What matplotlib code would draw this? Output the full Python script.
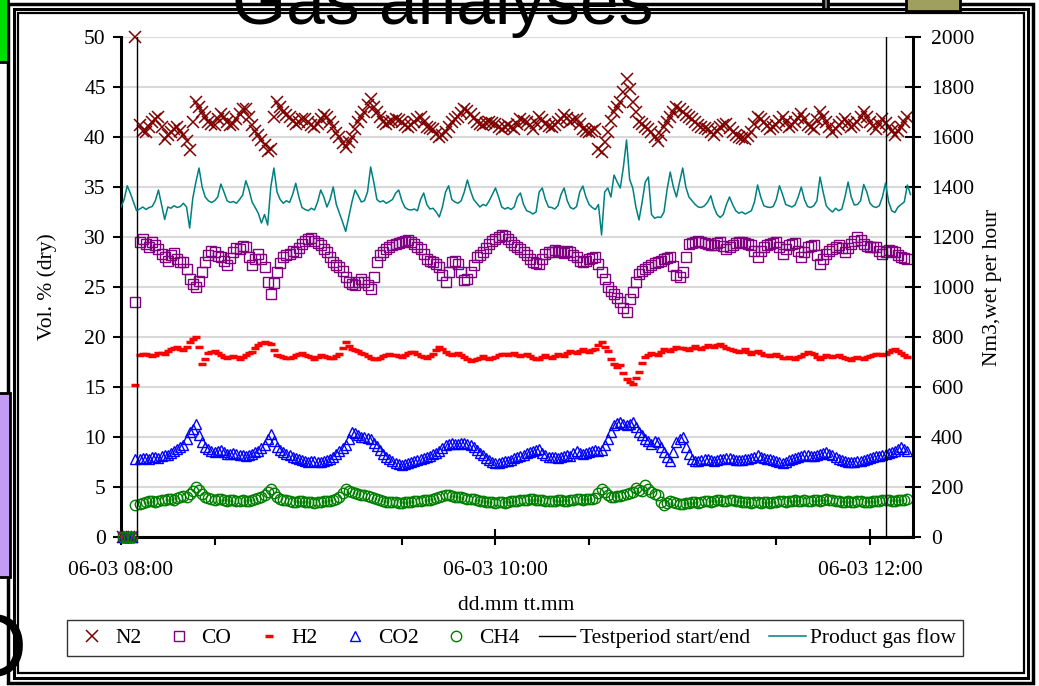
import matplotlib
matplotlib.use("Agg")
import matplotlib.pyplot as plt
from matplotlib.patches import Rectangle
from matplotlib.lines import Line2D

plt.rcParams['font.family'] = ['Liberation Serif', 'DejaVu Serif']

# minutes after 06-03 08:00
start_minutes = [0.5, 1.5, 2.5, 3.5, 4.5]
start_n2 = [0, 0, 0, 0, 50.0]
start_co = [0, 0, 0, 0, 23.5]
start_h2 = [0, 0, 0, 0, 15.2]
start_co2 = [0, 0, 0, 0, 7.8]
start_ch4 = [0, 0, 0, 0, 3.2]

even_minutes = list(range(6, 253, 2))
odd_minutes = list(range(7, 252, 2))

n2_even = [41.2, 40.5, 41.5, 42, 39.8, 40.5, 41, 40.2, 38.7, 43.5,
           42.5, 41.5, 41.2, 42.3, 41.5, 41.3, 42.3, 42.8, 41.2, 40.2,
           39.2, 38.8, 43.5, 42.5, 42, 41.3, 41.8, 41.5, 41, 41.8,
           42, 41, 40, 39, 40, 41.5, 42.5, 43.8, 42.5, 41.5,
           41.5, 41.8, 41.5, 41, 41.5, 42, 41, 40.8, 40, 40.5,
           41.5, 42, 42.8, 42.3, 41.5, 41.2, 41.5, 41.3, 40.8, 41.2,
           40.8, 41.8, 41.5, 40.8, 42, 41.3, 41, 41.5, 42.2, 41.5,
           41.8, 40.8, 40.5, 40.8, 38.5, 40.5, 42.5, 43.5, 45.8, 43.5,
           41.5, 41, 40.5, 39.6, 41, 42, 43, 42.5, 42, 41.5,
           41, 40.8, 40.2, 41, 41.3, 40.5, 40, 39.8, 40.5, 42,
           41.5, 40.8, 41.2, 42, 41, 41.5, 42.3, 41.2, 40.8, 42.5,
           41.5, 40.5, 41.2, 41.8, 41, 41.5, 42.5, 41.5, 40.8, 41.8,
           41, 40.2, 41, 42]
n2_odd = [40.6, 41.0, 41.8, 41.0, 40.2, 40.8, 40.6, 39.6, 41.5, 43.0,
          42.0, 41.3, 41.8, 42.0, 41.2, 41.8, 42.8, 42.0, 40.6, 39.7,
          38.6, 42.0, 43.0, 42.2, 41.6, 41.5, 41.8, 41.2, 41.3, 42.2,
          41.5, 40.4, 39.4, 39.5, 40.8, 42.0, 43.2, 43.0, 42.0, 41.3,
          41.6, 41.7, 41.2, 41.2, 41.8, 41.5, 40.9, 40.3, 40.2, 41.0,
          41.8, 42.4, 42.6, 41.9, 41.3, 41.4, 41.4, 41.0, 41.0, 41.0,
          41.3, 41.6, 41.2, 41.4, 41.7, 41.1, 41.2, 41.8, 41.9, 41.7,
          41.3, 40.6, 40.6, 38.8, 39.5, 41.6, 43.0, 44.5, 44.8, 42.5,
          41.3, 40.8, 40.0, 40.2, 41.5, 42.5, 42.8, 42.2, 41.8, 41.2,
          40.9, 40.5, 40.6, 41.2, 40.9, 40.2, 39.9, 40.1, 41.3, 41.8,
          41.1, 41.0, 41.6, 41.5, 41.2, 41.9, 41.8, 41.0, 41.7, 42.0,
          41.0, 40.8, 41.5, 41.4, 41.2, 42.0, 42.0, 41.1, 41.3, 41.4,
          40.6, 40.6, 41.5]

co_even = [29.5, 29.3, 29.5, 28.8, 28, 28.2, 27.8, 27.5, 25.8, 25,
           26.5, 28.2, 28.5, 28, 27.2, 28.5, 28.8, 29, 27.2, 28.3,
           27, 24.3, 26.5, 28, 28.3, 28.5, 29.3, 29.8, 29.6, 29.2,
           28.5, 27.5, 27, 26, 25.3, 25.5, 25.5, 24.8, 27.5, 28.5,
           29, 29.3, 29.5, 29.7, 29.3, 28.8, 27.8, 27.5, 27, 25.5,
           27.5, 27.3, 25.7, 26.5, 28, 28.5, 29.3, 29.8, 30.2, 29.8,
           29.2, 28.8, 28.2, 27.5, 27.3, 28.3, 28.5, 28.6, 28.4, 28.5,
           28, 27.5, 27.8, 28, 26.5, 25, 24.3, 23.5, 22.5, 24.5,
           26.3, 26.8, 27.2, 27.5, 27.8, 28, 26.2, 26.5, 29.3, 29.5,
           29.5, 29.3, 29.2, 29.5, 28.8, 29.2, 29.5, 29.4, 29.2, 28,
           29, 29.3, 29.5, 28.3, 29.2, 29.4, 28, 29, 29.2, 27.3,
           28.3, 28.8, 29.2, 28.5, 29.3, 30, 29.3, 29, 29, 28.3,
           28.7, 28.5, 28, 27.8]
co_odd = [29.8, 29.0, 29.2, 28.3, 27.6, 28.4, 27.5, 26.8, 25.3, 25.6,
          27.5, 28.6, 28.1, 27.6, 27.9, 28.9, 29.1, 28.0, 27.8, 27.8,
          25.5, 25.4, 27.4, 28.2, 28.6, 28.9, 29.6, 29.9, 29.4, 28.8,
          28.0, 27.2, 26.6, 25.5, 25.2, 25.8, 25.2, 26.0, 28.2, 28.8,
          29.2, 29.4, 29.6, 29.5, 29.0, 28.3, 27.6, 27.3, 26.2, 26.5,
          27.6, 26.5, 25.8, 27.2, 28.2, 28.9, 29.6, 30.0, 30.1, 29.5,
          29.0, 28.5, 27.8, 27.4, 27.8, 28.5, 28.7, 28.5, 28.6, 28.2,
          27.6, 27.6, 27.9, 27.3, 25.8, 24.6, 23.9, 22.9, 23.8, 25.5,
          26.6, 27.0, 27.4, 27.6, 27.9, 27.1, 26.0, 28.0, 29.4, 29.6,
          29.4, 29.2, 29.4, 29.1, 29.0, 29.4, 29.5, 29.3, 28.6, 28.6,
          29.2, 29.4, 29.0, 28.8, 29.3, 28.6, 28.5, 29.1, 28.2, 27.8,
          28.6, 29.0, 28.9, 28.9, 29.6, 29.7, 29.1, 29.0, 28.6, 28.5,
          28.6, 28.2, 27.9]

h2_even = [18.2, 18.3, 18.1, 18.4, 18.3, 18.8, 19, 18.7, 19.5, 20,
           17.3, 18.4, 18.6, 18.2, 17.9, 18.1, 17.8, 18.2, 18.5, 19.2,
           19.5, 19.3, 18.2, 18, 17.9, 18.2, 18.4, 18.1, 17.8, 18.2,
           18, 17.9, 18.3, 19.5, 18.8, 18.6, 18.3, 17.9, 17.8, 18.1,
           18.3, 18.2, 18, 18.4, 18.5, 18.1, 17.9, 18.3, 19, 18.5,
           18.2, 18.4, 18, 17.6, 17.8, 18.1, 17.8, 18, 18.3, 18.2,
           18.4, 18.1, 18.3, 17.9, 17.8, 18.2, 17.9, 18.3, 18.1, 18.6,
           18.4, 18.8, 18.5, 18.8, 19.5, 18.6, 17.3, 17.2, 15.8, 15.3,
           16.5, 18, 18.4, 18.2, 18.8, 18.6, 19, 18.9, 18.7, 19.1,
           18.8, 19.2, 19, 19.3, 18.9, 18.7, 18.5, 18.8, 18.3, 18.6,
           18.2, 18.1, 18.3, 17.9, 18, 17.8, 18.1, 18.5, 18.3, 17.8,
           18.2, 18, 18.2, 17.9, 17.7, 18, 17.8, 18.1, 18.3, 18.2,
           18.5, 18.8, 18.4, 18]
h2_odd = [18.3, 18.2, 18.2, 18.4, 18.6, 18.9, 18.8, 19.0, 19.8, 19.0,
          17.8, 18.5, 18.4, 18.0, 18.0, 18.0, 18.0, 18.4, 18.9, 19.4,
          19.4, 18.7, 18.1, 17.9, 18.0, 18.3, 18.2, 18.0, 18.0, 18.1,
          17.9, 18.1, 18.9, 19.1, 18.7, 18.4, 18.1, 17.8, 17.9, 18.2,
          18.2, 18.1, 18.2, 18.5, 18.3, 18.0, 18.1, 18.7, 18.8, 18.3,
          18.3, 18.2, 17.8, 17.7, 17.9, 17.9, 17.9, 18.2, 18.3, 18.3,
          18.2, 18.2, 18.1, 17.8, 18.0, 18.0, 18.1, 18.2, 18.4, 18.5,
          18.6, 18.6, 18.7, 19.2, 19.0, 17.8, 17.0, 16.4, 15.5, 15.9,
          17.4, 18.2, 18.3, 18.5, 18.7, 18.8, 18.9, 18.8, 18.9, 18.9,
          19.0, 19.1, 19.2, 19.1, 18.8, 18.6, 18.6, 18.5, 18.5, 18.4,
          18.2, 18.2, 18.1, 17.9, 17.9, 18.0, 18.3, 18.4, 18.0, 18.0,
          18.1, 18.1, 18.0, 17.8, 17.9, 17.9, 18.0, 18.2, 18.3, 18.3,
          18.7, 18.6, 18.2]

co2_even = [7.8, 7.9, 8, 7.9, 8.2, 8.4, 8.8, 9.2, 10.5, 11.3,
            9.5, 8.8, 8.5, 8.7, 8.3, 8.4, 8.2, 8.1, 8.3, 8.6,
            9.2, 10.3, 9, 8.5, 8.2, 7.9, 7.7, 7.5, 7.6, 7.5,
            7.7, 8, 8.6, 9.2, 10.5, 10.2, 10, 9.8, 9.1, 8.3,
            7.8, 7.4, 7.2, 7.4, 7.6, 7.8, 8, 8.3, 8.6, 9.2,
            9.4, 9.3, 9.4, 9.2, 8.7, 8.2, 7.7, 7.4, 7.5, 7.6,
            7.9, 8.1, 8.4, 8.6, 8.8, 8.2, 8, 7.9, 8.1, 8.1,
            8.6, 8.3, 8.5, 8.7, 8.7, 9.8, 11.2, 11.5, 11.2, 11.5,
            10.5, 9.8, 9.3, 9.5, 8.5, 7.6, 9.5, 10, 8.3, 7.6,
            7.7, 7.8, 7.6, 7.8, 7.9, 7.8, 7.7, 7.8, 7.9, 8.2,
            7.9, 7.8, 7.6, 7.4, 7.7, 7.9, 8.1, 8.2, 8.1, 8.3,
            8.5, 8.2, 7.8, 7.6, 7.5, 7.6, 7.7, 7.9, 8.1, 8.2,
            8.4, 8.6, 9, 8.6]
co2_odd = [7.9, 7.8, 8.0, 8.1, 8.2, 8.6, 9.0, 9.8, 10.8, 10.2,
           9.0, 8.6, 8.6, 8.5, 8.3, 8.3, 8.2, 8.2, 8.5, 8.9,
           9.8, 9.6, 8.7, 8.3, 8.0, 7.8, 7.6, 7.6, 7.5, 7.6,
           7.8, 8.3, 8.9, 9.8, 10.4, 10.0, 9.9, 9.4, 8.7, 8.0,
           7.6, 7.3, 7.3, 7.5, 7.7, 7.9, 8.1, 8.4, 8.9, 9.3,
           9.3, 9.4, 9.3, 9.0, 8.4, 7.9, 7.5, 7.4, 7.6, 7.7,
           8.0, 8.2, 8.5, 8.7, 8.4, 8.0, 8.0, 8.0, 8.2, 8.4,
           8.4, 8.4, 8.6, 8.6, 9.2, 10.5, 11.4, 11.3, 11.3, 11.0,
           10.2, 9.6, 9.6, 9.0, 8.0, 8.5, 9.8, 9.0, 7.8, 7.6,
           7.8, 7.7, 7.7, 7.8, 7.9, 7.7, 7.7, 7.8, 8.0, 8.0,
           7.8, 7.7, 7.5, 7.5, 7.8, 8.0, 8.2, 8.1, 8.2, 8.4,
           8.3, 8.0, 7.7, 7.5, 7.5, 7.6, 7.8, 8.0, 8.1, 8.3,
           8.5, 8.8, 8.8]

ch4_even = [3.3, 3.5, 3.6, 3.6, 3.7, 3.8, 3.9, 4.1, 4.3, 5,
            4.3, 3.9, 3.7, 3.8, 3.6, 3.7, 3.6, 3.6, 3.7, 3.9,
            4.2, 4.8, 4, 3.7, 3.6, 3.5, 3.6, 3.5, 3.4, 3.5,
            3.6, 3.7, 4, 4.8, 4.5, 4.3, 4.2, 4, 3.8, 3.6,
            3.5, 3.5, 3.4, 3.5, 3.6, 3.6, 3.7, 3.8, 4, 4.2,
            4.1, 4, 3.9, 3.8, 3.7, 3.6, 3.5, 3.4, 3.5, 3.5,
            3.6, 3.7, 3.7, 3.8, 3.7, 3.6, 3.6, 3.7, 3.6, 3.7,
            3.8, 3.7, 3.8, 3.9, 4.8, 4.2, 4, 4.1, 4.3, 4.5,
            4.7, 5.2, 4.5, 4.2, 3.2, 3.6, 3.4, 3.3, 3.4, 3.5,
            3.5, 3.6, 3.6, 3.7, 3.6, 3.7, 3.6, 3.5, 3.4, 3.5,
            3.5, 3.4, 3.5, 3.6, 3.6, 3.7, 3.6, 3.6, 3.7, 3.6,
            3.8, 3.7, 3.6, 3.5, 3.5, 3.6, 3.5, 3.5, 3.6, 3.7,
            3.7, 3.6, 3.7, 3.8]
ch4_odd = [3.4, 3.6, 3.5, 3.7, 3.8, 3.7, 4.0, 4.0, 4.6, 4.7,
           4.0, 3.8, 3.8, 3.7, 3.7, 3.6, 3.7, 3.6, 3.8, 4.0,
           4.5, 4.4, 3.8, 3.7, 3.5, 3.6, 3.5, 3.5, 3.5, 3.6,
           3.6, 3.8, 4.4, 4.6, 4.4, 4.2, 4.1, 3.9, 3.7, 3.5,
           3.5, 3.4, 3.5, 3.5, 3.6, 3.7, 3.7, 3.9, 4.1, 4.2,
           4.0, 4.0, 3.8, 3.8, 3.6, 3.5, 3.5, 3.5, 3.4, 3.6,
           3.6, 3.7, 3.8, 3.7, 3.7, 3.6, 3.6, 3.7, 3.6, 3.7,
           3.8, 3.8, 3.8, 4.4, 4.5, 4.0, 4.1, 4.2, 4.4, 4.9,
           4.6, 4.8, 4.3, 3.5, 3.4, 3.5, 3.3, 3.4, 3.5, 3.4,
           3.6, 3.5, 3.7, 3.6, 3.7, 3.6, 3.5, 3.5, 3.5, 3.4,
           3.5, 3.5, 3.6, 3.5, 3.6, 3.6, 3.7, 3.6, 3.7, 3.7,
           3.7, 3.6, 3.5, 3.6, 3.5, 3.6, 3.5, 3.6, 3.6, 3.7,
           3.6, 3.7, 3.7]

flow_minutes = list(range(0, 254))
flow = [1320, 1350, 1405, 1375, 1340, 1305, 1312, 1320, 1310, 1318,
        1322, 1345, 1388, 1330, 1270, 1320, 1315, 1325, 1318, 1322,
        1335, 1320, 1236, 1355, 1420, 1476, 1400, 1360, 1345, 1338,
        1345, 1360, 1412, 1380, 1345, 1338, 1342, 1335, 1350, 1368,
        1425, 1390, 1340, 1318, 1295, 1256, 1290, 1248, 1400, 1476,
        1380, 1350, 1335, 1345, 1338, 1370, 1415, 1360, 1318, 1310,
        1305, 1315, 1308, 1340, 1388, 1360, 1320, 1350, 1400, 1330,
        1295, 1260, 1222, 1280, 1340, 1388, 1365, 1340, 1345, 1380,
        1480, 1420, 1350, 1340, 1345, 1335, 1342, 1350, 1375, 1388,
        1345, 1318, 1310, 1308, 1312, 1305, 1350, 1376, 1330, 1312,
        1315, 1300, 1280, 1320, 1380, 1405, 1350, 1340, 1335, 1345,
        1380, 1428, 1385, 1350, 1335, 1320, 1330, 1325, 1345, 1370,
        1396, 1360, 1320, 1312, 1318, 1310, 1320, 1360, 1376, 1330,
        1305, 1300, 1292, 1300, 1380, 1396, 1350, 1320, 1318, 1312,
        1325, 1370, 1396, 1345, 1318, 1312, 1322, 1380, 1404, 1360,
        1330, 1318, 1310, 1330, 1208, 1380, 1396, 1360, 1448, 1420,
        1396, 1480, 1588, 1430, 1396, 1320, 1268, 1340, 1420, 1440,
        1290, 1275, 1280, 1278, 1300, 1390, 1460, 1400, 1360, 1420,
        1476, 1400, 1360, 1345, 1330, 1320, 1318, 1325, 1340, 1365,
        1320, 1290, 1278, 1290, 1330, 1360, 1330, 1305, 1295, 1300,
        1292, 1298, 1305, 1340, 1408, 1360, 1325, 1320, 1318, 1322,
        1350, 1405, 1370, 1330, 1325, 1320, 1328, 1360, 1400, 1350,
        1322, 1318, 1325, 1345, 1440, 1380, 1325, 1310, 1300, 1315,
        1305, 1312, 1360, 1420, 1360, 1328, 1330, 1345, 1410, 1380,
        1335, 1322, 1318, 1325, 1360, 1416, 1340, 1305, 1298, 1320,
        1330, 1340, 1408, 1370]

testperiod = [5, 245]
tick_minutes = [0, 120, 240]
tick_labels = ["06-03 08:00", "06-03 10:00", "06-03 12:00"]

W, H = 1039, 686
fig = plt.figure(figsize=(W / 100, H / 100), dpi=100)
ax = fig.add_axes([121 / W, 1 - 537 / H, 792 / W, 500 / H])
ax2 = ax.twinx()

fs = 15.5
all_minutes = start_minutes + even_minutes + odd_minutes
series = [
    ("N2", start_n2 + n2_even + n2_odd, dict(marker='x', color='#800000', ms=8, mew=1.1)),
    ("CO", start_co + co_even + co_odd, dict(marker='s', color='#800080', ms=7.5, mew=1.0, mfc='none')),
    ("H2", start_h2 + h2_even + h2_odd, dict(marker='_', color='#ff0000', ms=5.5, mew=2.5)),
    ("CO2", start_co2 + co2_even + co2_odd, dict(marker='^', color='#0000ff', ms=7.5, mew=1.0, mfc='none')),
    ("CH4", start_ch4 + ch4_even + ch4_odd, dict(marker='o', color='#008000', ms=7.5, mew=1.0, mfc='none')),
]
handles = []
for name, vals, st in series:
    ax.plot(all_minutes, vals, ls='none', zorder=3, clip_on=False, **st)
    handles.append(Line2D([], [], ls='none', label=name, **st))

for t in testperiod:
    ax.plot([t, t], [0, 50], color='#000000', lw=1.0, zorder=4)
handles.append(Line2D([], [], color='#000000', lw=1.0, label='Testperiod start/end'))

ax2.plot(flow_minutes, flow, color='#008080', lw=1.1)
handles.append(Line2D([], [], color='#008080', lw=1.1, label='Product gas flow'))

ax.set_xlim(0, 253.8)
ax.set_ylim(0, 50)
ax2.set_ylim(0, 2000)
ax.set_yticks(range(0, 51, 5))
ax2.set_yticks(range(0, 2001, 200))
ax.set_xticks(tick_minutes)
ax.set_xticklabels(tick_labels)
ax.set_xticks(range(30, 253, 60), minor=True)

ax.yaxis.grid(True, color='#d9d9d9', lw=1.5)
ax.set_axisbelow(True)

for a in (ax, ax2):
    for sp in a.spines.values():
        sp.set_linewidth(2.2)
    a.spines['top'].set_visible(False)
ax.spines['right'].set_visible(False)
ax2.spines['left'].set_visible(False)
ax2.spines['bottom'].set_visible(False)

ax.tick_params(axis='y', direction='out', length=6, width=1.5, labelsize=fs, pad=5)
ax.tick_params(axis='x', which='major', direction='inout', length=12, width=1.5, labelsize=fs, pad=11)
ax.tick_params(axis='x', which='minor', direction='out', length=6, width=1.5)
ax2.tick_params(axis='y', direction='inout', length=12, width=1.5, labelsize=fs, pad=7)

fig.text(47 / W, 1 - 287 / H, 'Vol. % (dry)', rotation=90, ha='center', va='center', fontsize=fs)
fig.text(993 / W, 1 - 287 / H, 'Nm3,wet per hour', rotation=90, ha='center', va='center', fontsize=fs)
fig.text(516 / W, 1 - 605 / H, 'dd.mm tt.mm', ha='center', va='center', fontsize=fs)

leg = fig.legend(handles=handles, loc='center', bbox_to_anchor=(515 / W, 1 - 638 / H),
                 ncol=7, fontsize=fs, frameon=True, fancybox=False, edgecolor='#000000',
                 handlelength=1.7, handletextpad=0.2, columnspacing=0.9, borderpad=0.35)
leg.get_frame().set_linewidth(1.0)

# nested chart frames
for x0, y0, x1, y1, lw in [(18, 13, 1024, 673, 1.6), (14, 9, 1028, 678, 2.2), (8, 4, 1033, 683, 2.5)]:
    fig.add_artist(Rectangle((x0 / W, 1 - y1 / H), (x1 - x0) / W, (y1 - y0) / H,
                             transform=fig.transFigure, fill=False, ec='#000000', lw=lw))

# bits of the surrounding page that show around the chart
for x0, y0, x1, y1, fc in [(-2, -2, 8, 62, '#00dd00'), (-2, 393, 10, 577, '#c39bf5'),
                           (906, -2, 960, 11, '#9fa060'), (823, -2, 828, 9, '#777777')]:
    fig.add_artist(Rectangle((x0 / W, 1 - y1 / H), (x1 - x0) / W, (y1 - y0) / H,
                             transform=fig.transFigure, fc=fc, ec='#000000', lw=2))
fig.text(232 / W, 1 - 24 / H, 'Gas analyses', fontsize=50, family='Liberation Sans',
         ha='left', va='baseline')
fig.text(-42 / W, 1 - 676 / H, 'O', fontsize=64, family='Liberation Sans', ha='left', va='baseline')

fig.savefig('out.png', dpi=100)
